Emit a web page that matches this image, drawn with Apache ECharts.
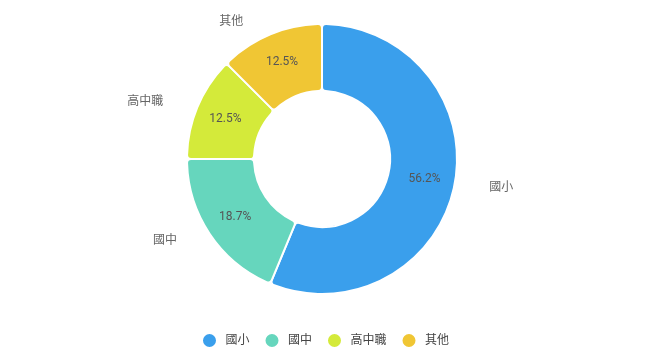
<!DOCTYPE html>
<html>
<head>
<meta charset="utf-8">
<script src="https://cdn.jsdelivr.net/npm/echarts@6/dist/echarts.min.js"></script>
<style>
  html, body { margin: 0; padding: 0; background: #fff; }
  #chart { width: 650px; height: 352px; }
</style>
</head>
<body>
<div id="chart"></div>
<script>
/* 學歷分布 - 環形圖 */
const categories = ['國小', '國中', '高中職', '其他'];
const values = [9, 3, 2, 2];
const colors = ['#3a9fec', '#66d6bd', '#d4ea3a', '#f0c634'];

const pieData = categories.map((name, i) => ({ name, value: values[i] }));

const chart = echarts.init(document.getElementById('chart'));

const option = {
    color: colors,
    textStyle: { fontFamily: 'Roboto, "Noto Sans CJK TC", sans-serif' },
    legend: {
        bottom: -2,
        left: 'center',
        icon: 'circle',
        itemWidth: 22,
        itemHeight: 15,
        itemGap: 14,
        textStyle: { fontSize: 12, color: '#444' },
        data: categories
    },
    series: [
        {
            // 扇區 + 內部百分比
            type: 'pie',
            center: [322, 159],
            radius: [68, 135],
            startAngle: 90,
            itemStyle: { borderColor: '#fff', borderWidth: 2, borderRadius: 4 },
            label: {
                position: 'inside',
                fontSize: 12,
                color: '#555',
                formatter: p => (Math.floor(p.percent * 10) / 10).toFixed(1) + '%'
            },
            labelLine: { show: false },
            emphasis: { scale: false },
            data: pieData
        },
        {
            // 外部名稱
            type: 'pie',
            center: [322, 159],
            radius: [68, 135],
            startAngle: 90,
            silent: true,
            itemStyle: { color: 'transparent', borderWidth: 0 },
            label: {
                position: 'outside',
                fontSize: 12,
                color: '#666'
            },
            labelLine: { show: false, length: 13, length2: 17 },
            data: pieData
        }
    ]
};

chart.setOption(option);
</script>
</body>
</html>
